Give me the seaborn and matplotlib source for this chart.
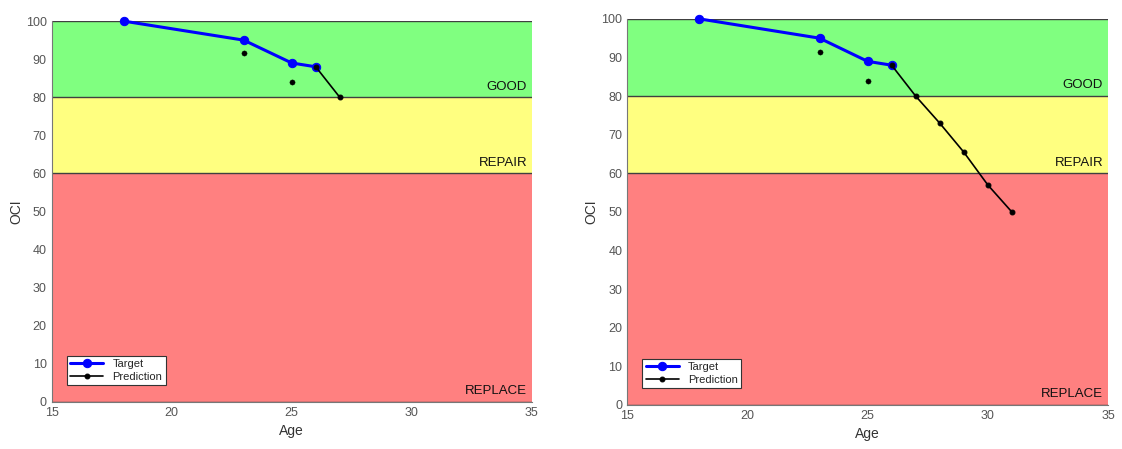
import pandas as pd
import matplotlib.pyplot as plt
import seaborn as sns

# Observed condition (same on both panels)
target_age = [18, 23, 25, 26]
target_oci = [100, 95, 89, 88]

# One-step predictions at observed ages
pred_age = [23, 25]
pred_oci = [91.5, 84]

# Forecast continuation, left = short, right = long
fc_age_left = [26, 27]
fc_oci_left = [88, 80]
fc_age_right = [26, 27, 28, 29, 30, 31]
fc_oci_right = [88, 80, 73, 65.5, 57, 50]

bands = [(0, 60, '#ff8080', 'REPLACE'), (60, 80, '#ffff80', 'REPAIR'), (80, 100, '#80ff80', 'GOOD')]

sns.set_style('white')
plt.rcParams['font.family'] = ['Arial', 'Liberation Sans', 'DejaVu Sans']

fig = plt.figure(figsize=(11.22, 4.49), dpi=100)
ax1 = fig.add_axes([0.046, 0.105, 0.428, 0.848])
ax2 = fig.add_axes([0.559, 0.098, 0.4285, 0.860])


def draw_panel(ax, fc_age, fc_oci):
    for lo, hi, col, name in bands:
        ax.axhspan(lo, hi, color=col, zorder=0, lw=0)
        ax.axhline(hi, color='#404040', lw=1, zorder=1)
        ax.text(34.8, lo + 1.2, name, ha='right', va='bottom', fontsize=9.5, color='#111111')
    ax.axhline(0, color='#404040', lw=1, zorder=1)

    tdf = pd.DataFrame({'Age': target_age, 'OCI': target_oci})
    fdf = pd.DataFrame({'Age': fc_age, 'OCI': fc_oci})
    pdf = pd.DataFrame({'Age': pred_age, 'OCI': pred_oci})

    sns.lineplot(data=tdf, x='Age', y='OCI', ax=ax, color='#0000ff', lw=2.2,
                 marker='o', markersize=6, markeredgecolor='#0000ff', label='Target',
                 zorder=3, clip_on=False)
    sns.lineplot(data=fdf, x='Age', y='OCI', ax=ax, color='black', lw=1.2,
                 marker='o', markersize=3.5, markeredgecolor='black', label='Prediction', zorder=4)
    sns.scatterplot(data=pdf, x='Age', y='OCI', ax=ax, color='black', s=14,
                    edgecolor='black', zorder=4, legend=False)

    ax.set_xlim(15, 35)
    ax.set_ylim(0, 100)
    ax.set_xticks(range(15, 36, 5))
    ax.set_yticks(range(0, 101, 10))
    ax.tick_params(axis='both', direction='in', length=3, labelsize=9, colors='#555555',
                   labelcolor='#555555')
    ax.set_xlabel('Age', fontsize=10, color='#333333')
    ax.set_ylabel('OCI', fontsize=10, color='#333333', labelpad=2)
    for side in ['top', 'right']:
        ax.spines[side].set_visible(False)
    for side in ['left', 'bottom']:
        ax.spines[side].set_color('#777777')
    leg = ax.legend(loc='lower left', fontsize=8, frameon=True, fancybox=False,
                    edgecolor='#333333', framealpha=1, borderpad=0.3, handlelength=3,
                    labelspacing=0.2, bbox_to_anchor=(0.02, 0.03))
    leg.get_frame().set_linewidth(0.8)


draw_panel(ax1, fc_age_left, fc_oci_left)
draw_panel(ax2, fc_age_right, fc_oci_right)

plt.savefig('out.png', dpi=100)
plt.close()
